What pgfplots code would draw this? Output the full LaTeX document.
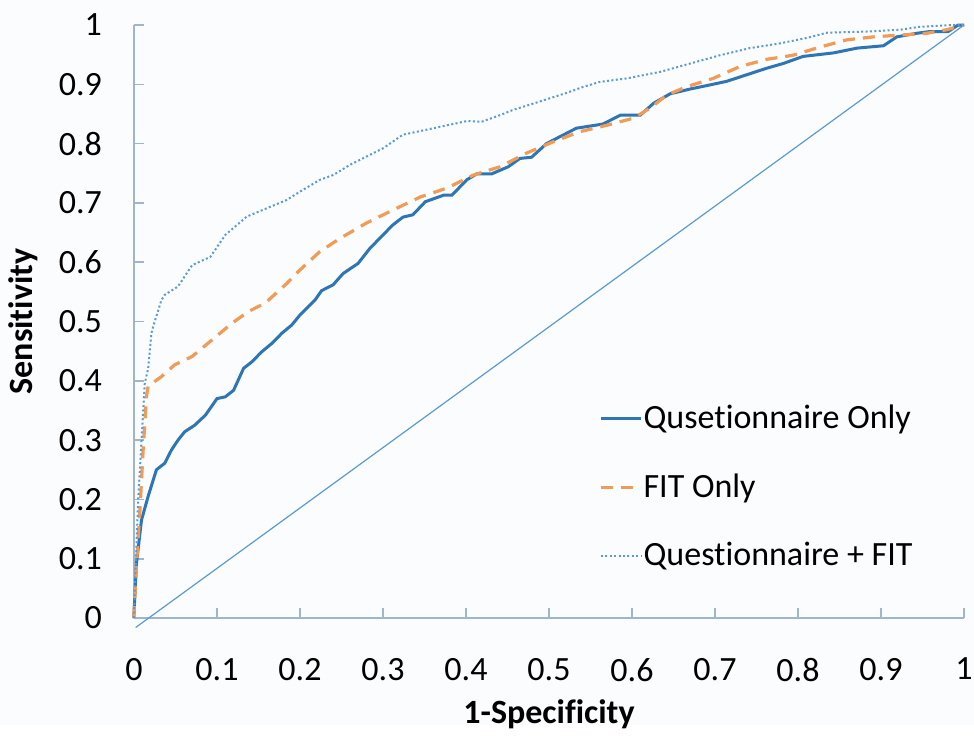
\documentclass[border=0pt]{standalone}
\usepackage{fontspec}
\setmainfont{Carlito}[Ligatures=NoCommon]
\usepackage{pgfplots}
\pgfplotsset{compat=1.18}

\definecolor{axisgray}{RGB}{160,182,200}
\definecolor{qblue}{RGB}{46,117,182}
\definecolor{fitorange}{RGB}{242,155,85}
\definecolor{lightblue}{RGB}{91,155,213}
\definecolor{bg}{RGB}{251,252,254}

\begin{document}
\begin{tikzpicture}
\fill[bg] (-67pt,-53.5pt) rectangle (420pt,309pt);
\begin{axis}[
scale only axis,
width=415pt,height=296.5pt,
xmin=0,xmax=1,ymin=0,ymax=1,
axis lines=left,
axis line style={axisgray,line width=0.8pt,-},
every tick/.style={axisgray,line width=0.8pt},
tick align=inside,
major tick length=5pt,
xtick={0,0.1,0.2,0.3,0.4,0.5,0.6,0.7,0.8,0.9,1},
ytick={0,0.1,0.2,0.3,0.4,0.5,0.6,0.7,0.8,0.9,1},
xticklabels={0,0.1,0.2,0.3,0.4,0.5,0.6,0.7,0.8,0.9,1},
yticklabels={0,0.1,0.2,0.3,0.4,0.5,0.6,0.7,0.8,0.9,1},
xticklabel style={font=\fontsize{17}{20}\selectfont,inner xsep=0pt,yshift=-16.5pt},
yticklabel style={font=\fontsize{17}{20}\selectfont,xshift=-12.5pt},
xlabel={\textbf{1-Specificity}},
ylabel={\textbf{Sensitivity}},
xlabel style={font=\fontsize{17}{20}\selectfont,yshift=-2pt},
ylabel style={font=\fontsize{17}{20}\selectfont,yshift=3.5pt},
clip=false,
legend image code/.code={\draw[#1] (0pt,0pt) -- (20pt,0pt);},
legend style={at={(axis cs:0.553,0.373)},anchor=north west,draw=none,fill=none,
  font=\fontsize{17}{20}\selectfont,row sep=17pt,
  nodes={inner xsep=0.5pt}},
legend cell align=left,
]
% diagonal reference
\addplot[lightblue,line width=0.6pt,forget plot] coordinates {(0.002,-0.016)(1,1)};

% Qusetionnaire Only
\addplot[qblue,line width=1.5pt] coordinates {
(0,0)(0,0.008)(0.003,0.092)(0.009,0.165)(0.017,0.205)(0.027,0.25)(0.037,0.261)
(0.045,0.283)(0.053,0.300)(0.061,0.314)(0.073,0.325)(0.086,0.342)(0.10,0.370)
(0.11,0.373)(0.12,0.384)(0.132,0.421)(0.142,0.432)(0.154,0.449)(0.166,0.463)
(0.178,0.48)(0.19,0.494)(0.2,0.511)(0.218,0.536)(0.226,0.552)(0.24,0.562)
(0.252,0.581)(0.27,0.598)(0.284,0.623)(0.30,0.646)(0.312,0.663)(0.324,0.676)
(0.336,0.680)(0.351,0.702)(0.373,0.713)(0.383,0.713)(0.401,0.739)(0.413,0.749)
(0.431,0.749)(0.451,0.761)(0.465,0.775)(0.479,0.777)(0.497,0.80)(0.533,0.826)
(0.565,0.833)(0.586,0.848)(0.61,0.848)(0.626,0.868)(0.646,0.884)(0.67,0.892)
(0.694,0.899)(0.714,0.905)(0.738,0.916)(0.762,0.927)(0.782,0.935)(0.806,0.947)
(0.843,0.953)(0.871,0.961)(0.903,0.965)(0.919,0.980)(0.943,0.986)(0.959,0.989)
(0.981,0.989)(0.993,1.0)(1,1)
};
\addlegendentry{Qusetionnaire Only}

% FIT Only
\addplot[fitorange,line width=1.6pt,dash pattern=on 6pt off 4pt] coordinates {
(0,0)(0,0.008)(0.003,0.09)(0.007,0.177)(0.011,0.283)(0.015,0.373)(0.017,0.391)
(0.033,0.407)(0.049,0.427)(0.07,0.441)(0.094,0.469)(0.118,0.497)(0.138,0.517)
(0.158,0.531)(0.184,0.564)(0.2,0.587)(0.224,0.618)(0.248,0.640)(0.28,0.666)
(0.312,0.688)(0.345,0.710)(0.377,0.725)(0.409,0.747)(0.441,0.761)(0.473,0.784)
(0.505,0.803)(0.537,0.820)(0.57,0.831)(0.602,0.843)(0.622,0.86)(0.642,0.882)
(0.666,0.896)(0.698,0.910)(0.73,0.930)(0.762,0.942)(0.794,0.949)(0.827,0.963)
(0.859,0.975)(0.891,0.980)(0.923,0.983)(0.955,0.986)(0.979,0.992)(1,1)
};
\addlegendentry{FIT Only}

% Questionnaire + FIT
\addplot[lightblue,line width=1pt,dash pattern=on 1pt off 1.2pt] coordinates {
(0,0)(0,0.008)(0.005,0.199)(0.013,0.396)(0.017,0.42)(0.021,0.48)(0.023,0.491)
(0.033,0.536)(0.037,0.545)(0.053,0.559)(0.07,0.595)(0.092,0.609)(0.11,0.646)
(0.136,0.677)(0.16,0.691)(0.184,0.705)(0.2,0.719)(0.224,0.739)(0.24,0.747)
(0.26,0.764)(0.30,0.792)(0.324,0.815)(0.361,0.826)(0.401,0.838)(0.419,0.837)
(0.441,0.848)(0.457,0.857)(0.489,0.871)(0.52,0.885)(0.54,0.895)(0.561,0.904)
(0.594,0.910)(0.634,0.921)(0.67,0.935)(0.706,0.949)(0.742,0.961)(0.778,0.969)
(0.81,0.978)(0.835,0.987)(0.883,0.989)(0.923,0.992)(0.947,0.997)(0.987,1.0)(1,1)
};
\addlegendentry{Questionnaire + FIT}
\end{axis}
\end{tikzpicture}
\end{document}
